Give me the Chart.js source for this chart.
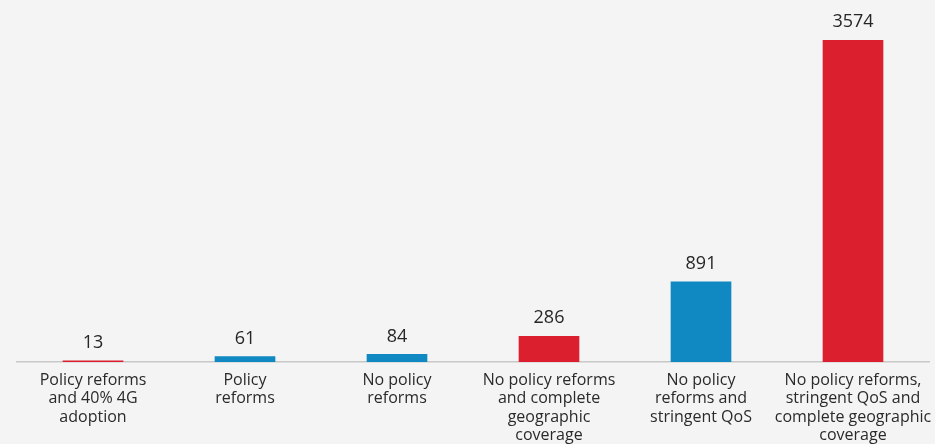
<!DOCTYPE html>
<html>
<head>
<meta charset="utf-8">
<script src="https://cdn.jsdelivr.net/npm/chart.js@4"></script>
<style>
  html, body { margin: 0; padding: 0; background: #f3f4f3; }
  #wrap { width: 935px; height: 444px; position: relative; }
</style>
</head>
<body>
<div id="wrap"><canvas id="chart"></canvas></div>
<script>
// Scenario labels (split into lines) and values
const scenarios = [
    ['Policy reforms', 'and 40% 4G', 'adoption'],
    ['Policy', 'reforms'],
    ['No policy', 'reforms'],
    ['No policy reforms', 'and complete', 'geographic', 'coverage'],
    ['No policy', 'reforms and', 'stringent QoS'],
    ['No policy reforms,', 'stringent QoS and', 'complete geographic', 'coverage']
];
const values = [13, 61, 84, 286, 891, 3574];
const barColors = ['#dc1f2e', '#1088c2', '#1088c2', '#dc1f2e', '#1088c2', '#dc1f2e'];

// Draw the value above each bar
const valueLabels = {
    id: 'valueLabels',
    afterDatasetsDraw(chart) {
        const ctx = chart.ctx;
        const meta = chart.getDatasetMeta(0);
        ctx.save();
        ctx.font = '18px "Open Sans", sans-serif';
        ctx.fillStyle = '#262626';
        ctx.textAlign = 'center';
        ctx.textBaseline = 'bottom';
        meta.data.forEach(function (bar, i) {
            ctx.fillText(values[i], bar.x, bar.y - 9);
        });
        ctx.restore();
    }
};

new Chart(document.getElementById('chart'), {
    type: 'bar',
    data: {
        labels: scenarios,
        datasets: [{
            data: values,
            backgroundColor: barColors,
            barThickness: 60
        }]
    },
    options: {
        responsive: true,
        maintainAspectRatio: false,
        animation: false,
        layout: { padding: { left: 17, right: 6, top: 2, bottom: 0 } },
        plugins: {
            legend: { display: false },
            tooltip: { enabled: false }
        },
        scales: {
            x: {
                grid: { display: false },
                border: { display: true, color: '#c8c8c8', width: 1.5 },
                ticks: {
                    color: '#2a2a2a',
                    font: { family: '"Open Sans", sans-serif', size: 16, lineHeight: 1.15 },
                    maxRotation: 0,
                    autoSkip: false,
                    padding: 1
                },
                afterFit(scale) { scale.height = 82; }
            },
            y: {
                display: false,
                min: 0,
                max: 4000
            }
        }
    },
    plugins: [valueLabels]
});
</script>
</body>
</html>
